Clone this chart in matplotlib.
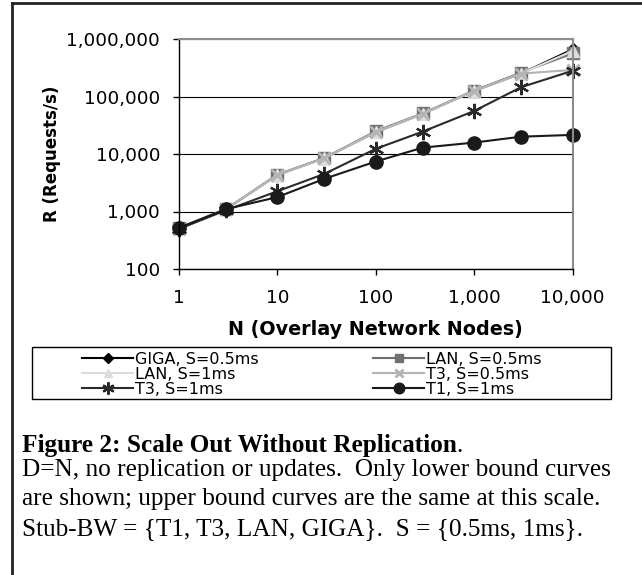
import numpy as np
import matplotlib
matplotlib.use('Agg')
from matplotlib import pyplot as plt
from matplotlib.ticker import FuncFormatter, NullLocator
from matplotlib.lines import Line2D
from matplotlib.patches import Rectangle

# dados
n = [1, 3, 10, 30, 100, 300, 1000, 3000, 10000]
giga_05 = [500, 1100, 4300, 8500, 24000, 50000, 125000, 250000, 660000]
lan_05 = [520, 1100, 4400, 8500, 25000, 51000, 127000, 260000, 560000]
lan_1 = [500, 1100, 4300, 8400, 24000, 50000, 124000, 250000, 620000]
t3_05 = [500, 1100, 4300, 8500, 24000, 50000, 125000, 250000, 290000]
t3_1 = [500, 1050, 2250, 4500, 12300, 24500, 56000, 145000, 280000]
t1_1 = [520, 1100, 1780, 3700, 7400, 12900, 15800, 20000, 21500]

labels = ['GIGA, S=0.5ms', 'LAN, S=0.5ms', 'LAN, S=1ms',
          'T3, S=0.5ms', 'T3, S=1ms', 'T1, S=1ms']
yticks = [100, 1000, 10000, 100000, 1000000]
xticks = [1, 10, 100, 1000, 10000]

W, H = 642, 575
fig = plt.figure(figsize=(W / 100., H / 100.), dpi=100)

def px(x0, y0, w, h):
    # retangulo em pixels (topo-esquerda) -> fracao da figura
    return [x0 / W, 1 - (y0 + h) / H, w / W, h / H]

ax = fig.add_axes(px(179, 39, 393.5, 230))

estilos = [
    dict(color='black', marker='D', ms=6.5, mfc='black', mec='black'),
    dict(color='#6e6e6e', marker='s', ms=8, mfc='#707070', mec='#707070'),
    dict(color='#dcdcdc', marker='^', ms=8, mfc='#dcdcdc', mec='#dcdcdc'),
    dict(color='#b4b4b4', marker='x', ms=8, mew=2, mfc='#b4b4b4', mec='#b4b4b4'),
    dict(color='#2a2a2a', marker=(6, 2, 0), ms=11, mew=1.6, mec='#2a2a2a'),
    dict(color='#1a1a1a', marker='o', ms=9.5, mfc='#1a1a1a', mec='#1a1a1a'),
]
series = [giga_05, lan_05, lan_1, t3_05, t3_1, t1_1]
hnd = []
for s, st, lb in zip(series, estilos, labels):
    h, = ax.plot(n, s, lw=1.5, label=lb, clip_on=False, **st)
    hnd.append(h)

ax.set_xscale('log')
ax.set_yscale('log')
ax.set_xlim(1, 10000)
ax.set_ylim(100, 1000000)
ax.set_xticks(xticks)
ax.set_yticks(yticks)
ax.xaxis.set_minor_locator(NullLocator())
ax.yaxis.set_minor_locator(NullLocator())
fmt = FuncFormatter(lambda v, p: '{:,}'.format(int(round(v))))
ax.xaxis.set_major_formatter(fmt)
ax.yaxis.set_major_formatter(fmt)
ax.tick_params(axis='both', labelsize=13.2, direction='out', length=4.5, width=1, colors='black')
ax.tick_params(axis='y', pad=9)
ax.tick_params(axis='x', pad=10)
ax.yaxis.grid(True, color='black', lw=0.8)
ax.set_axisbelow(True)
ax.spines['top'].set_color('#8c8c8c')
ax.spines['right'].set_color('#8c8c8c')
ax.spines['top'].set_linewidth(1.5)
ax.spines['right'].set_linewidth(1.5)
ax.spines['left'].set_linewidth(1)
ax.spines['bottom'].set_linewidth(1)

ax.set_xlabel('N (Overlay Network Nodes)', fontsize=13.8, fontweight='bold', labelpad=9)
ax.set_ylabel('R (Requests/s)', fontsize=12, fontweight='bold')
ax.yaxis.set_label_coords((61.5 - 179) / 393.5, 0.5)

# legenda (ordem por colunas como no excel)
ordem = [0, 2, 4, 1, 3, 5]
leg = fig.legend([hnd[i] for i in ordem], [labels[i] for i in ordem], ncol=2,
                 loc='upper left', bbox_to_anchor=(82 / W, 1 - 352 / H),
                 frameon=False, fontsize=11.5, handlelength=3.2, handletextpad=0.1,
                 labelspacing=0.0, columnspacing=7.2, borderpad=0, borderaxespad=0,
                 markerscale=0.8)
fig.add_artist(Rectangle((32 / W, 1 - 399 / H), 579 / W, 52 / H, transform=fig.transFigure,
                         fill=False, edgecolor='black', lw=1))

# moldura da figura
fig.add_artist(Line2D([12 / W, 1], [1 - 3 / H, 1 - 3 / H], transform=fig.transFigure, color='#222222', lw=2))
fig.add_artist(Line2D([12 / W, 12 / W], [0, 1 - 3 / H], transform=fig.transFigure, color='#222222', lw=2))

# legenda da figura
fam = ['Liberation Serif', 'DejaVu Serif']
t = fig.text(22 / W, 1 - 452 / H, 'Figure 2: Scale Out Without Replication', fontsize=18.2,
             fontweight='bold', family=fam, va='baseline')
fig.canvas.draw()
bb = t.get_window_extent()
fig.text(bb.x1 / W, 1 - 452 / H, '.', fontsize=18.2, family=fam, va='baseline')
linhas = ['D=N, no replication or updates.  Only lower bound curves',
          'are shown; upper bound curves are the same at this scale.',
          'Stub-BW = {T1, T3, LAN, GIGA}.  S = {0.5ms, 1ms}.']
for i, l in enumerate(linhas):
    fig.text(22 / W, 1 - (476 + 29.5 * i) / H, l, fontsize=18.2, family=fam, va='baseline')

fig.savefig('out.png', dpi=100)
